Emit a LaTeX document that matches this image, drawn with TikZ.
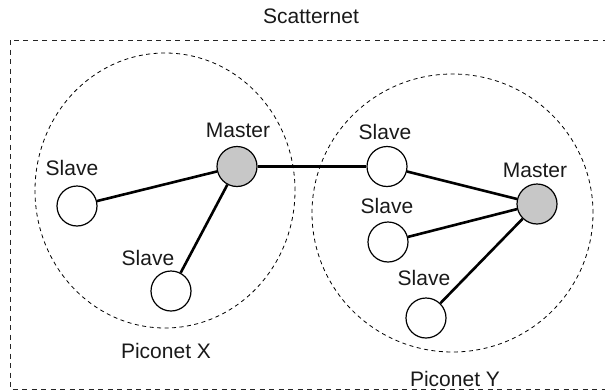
\documentclass[tikz,border=0pt]{standalone}
\usepackage{fontspec}
\setmainfont{Liberation Sans}
\begin{document}
\begin{tikzpicture}[x=1pt,y=-1pt,
  dev/.style={circle,draw=black,line width=1.2pt,minimum size=40pt,inner sep=0pt,fill=white},
  mst/.style={dev,fill=black!22},
  lbl/.style={anchor=base,inner sep=0pt,font=\fontsize{21}{24}\selectfont,text=black!90},
  link/.style={line width=2.6pt},
  zone/.style={draw=black,line width=0.8pt,dash pattern=on 4pt off 3.5pt},
  frame/.style={draw=black!85,line width=0.8pt,dash pattern=on 5pt off 4.5pt}]
\useasboundingbox (0,0) rectangle (605,391);
\path[frame] (10,40) rectangle (620,389);
\path[zone] (165,190.5) ellipse [x radius=130pt,y radius=137.5pt];
\path[zone] (452.5,213) ellipse [x radius=140.5pt,y radius=139pt];
\node[lbl] (tsc) at (311,23) {Scatternet};
\node[dev] (xs1) at (77,206) {};
\node[mst] (xm) at (237,166.5) {};
\node[dev] (xs2) at (171,291) {};
\node[dev] (ys1) at (387,166.5) {};
\node[mst] (ym) at (537,204) {};
\node[dev] (ys2) at (388,242) {};
\node[dev] (ys3) at (426,318) {};
\draw[link] (xs1) -- (xm);
\draw[link] (xm) -- (xs2);
\draw[link] (xm) -- (ys1);
\draw[link] (ys1) -- (ym);
\draw[link] (ys2) -- (ym);
\draw[link] (ys3) -- (ym);
\node[lbl] (lxs1) at (72,175) {Slave};
\node[lbl] (lxm) at (238,137) {Master};
\node[lbl] (lxs2) at (148,265) {Slave};
\node[lbl] (lys1) at (385,139) {Slave};
\node[lbl] (lym) at (535,177) {Master};
\node[lbl] (lys2) at (387,213) {Slave};
\node[lbl] (lys3) at (424,285) {Slave};
\node[lbl] (lpx) at (166,358) {Piconet X};
\node[lbl] (lpy) at (455,386) {Piconet Y};
\end{tikzpicture}
\end{document}
